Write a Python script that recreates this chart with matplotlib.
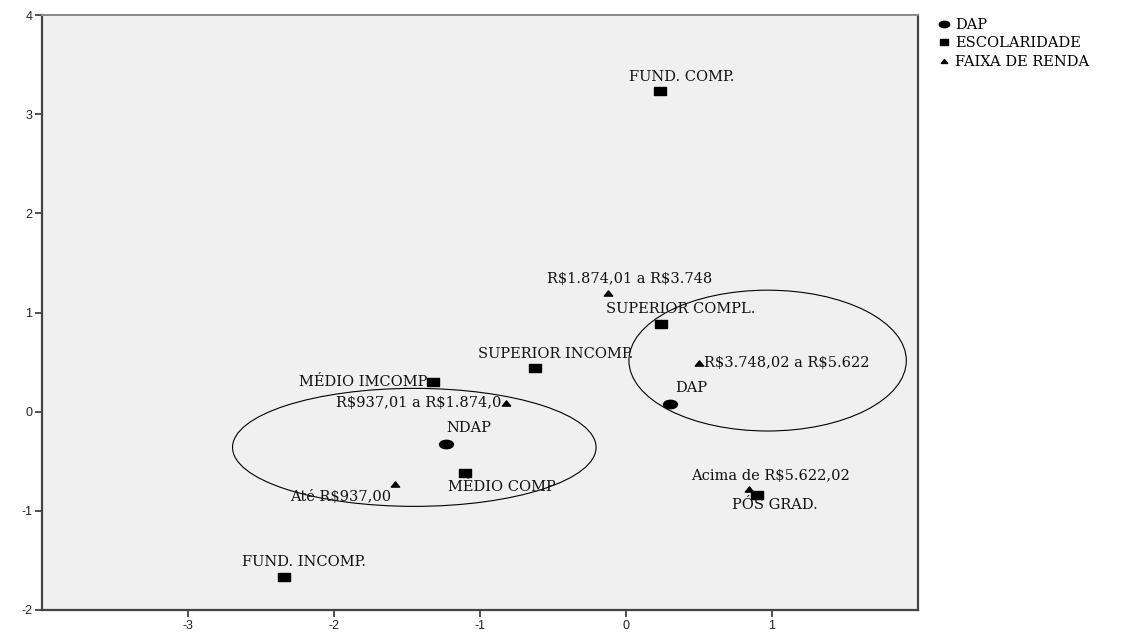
import numpy as np
import matplotlib
matplotlib.use("Agg")
import matplotlib.pyplot as plt
from matplotlib.path import Path
from matplotlib.patches import Ellipse
from matplotlib.lines import Line2D

plt.rcParams["axes.unicode_minus"] = False
plt.rcParams["text.parse_math"] = False

# ---------------- data ----------------
labels = ["FUND. COMP.", "FUND. INCOMP.", "MÉDIO IMCOMP", "SUPERIOR INCOMP.",
          "MÉDIO COMP", "SUPERIOR COMPL.", "PÓS GRAD.",
          "Até R$937,00", "R$937,01 a R$1.874,0", "R$1.874,01 a R$3.748",
          "R$3.748,02 a R$5.622", "Acima de R$5.622,02",
          "NDAP", "DAP"]
groups = ["ESCOLARIDADE"] * 7 + ["FAIXA DE RENDA"] * 5 + ["DAP"] * 2
x_vals = [0.23, -2.34, -1.32, -0.62, -1.10, 0.24, 0.90,
          -1.58, -0.82, -0.12, 0.50, 0.84,
          -1.23, 0.30]
y_vals = [3.23, -1.67, 0.30, 0.44, -0.62, 0.88, -0.84,
          -0.73, 0.09, 1.20, 0.49, -0.78,
          -0.33, 0.08]
legend_order = ["DAP", "ESCOLARIDADE", "FAIXA DE RENDA"]
x_ticks = [-3, -2, -1, 0, 1]
y_ticks = [4, 3, 2, 1, 0, -1, -2]

# ellipses drawn around clusters (center x, center y, width, height)
ellipses = [(-1.45, -0.36, 2.49, 1.19), (0.97, 0.515, 1.90, 1.42)]

# ---------------- layout of labels (offset in pixels, alignment) ----------------
label_layout = {
    "FUND. COMP.": (22, 14.5, "center"),
    "FUND. INCOMP.": (20, 15, "center"),
    "MÉDIO IMCOMP": (-6, 0, "right"),
    "SUPERIOR INCOMP.": (20, 14, "center"),
    "MÉDIO COMP": (36, -14, "center"),
    "SUPERIOR COMPL.": (20, 15, "center"),
    "PÓS GRAD.": (17, -10, "center"),
    "Até R$937,00": (-55, -13, "center"),
    "R$937,01 a R$1.874,0": (-5, 0, "right"),
    "R$1.874,01 a R$3.748": (21, 14, "center"),
    "R$3.748,02 a R$5.622": (5, 0, "left"),
    "Acima de R$5.622,02": (22, 13, "center"),
    "NDAP": (22, 16, "center"),
    "DAP": (21, 16, "center"),
}

# ---------------- stretched markers ----------------
def stretched(verts, codes, sx):
    v = np.array(verts, dtype=float) * np.array([sx, 1.0])
    return Path(v, codes)

circ = Path.unit_circle()
m_circle = stretched(circ.vertices, circ.codes, 1.65)
m_square = stretched([(-1, -1), (1, -1), (1, 1), (-1, 1), (-1, -1)],
                     [Path.MOVETO, Path.LINETO, Path.LINETO, Path.LINETO, Path.CLOSEPOLY], 1.55)
m_tri = stretched([(-1, -1), (1, -1), (0, 1), (-1, -1)],
                  [Path.MOVETO, Path.LINETO, Path.LINETO, Path.CLOSEPOLY], 1.6)
marker_style = {"DAP": (m_circle, 10), "ESCOLARIDADE": (m_square, 8),
                "FAIXA DE RENDA": (m_tri, 6)}

# ---------------- figure ----------------
W, H = 1142, 632
fig = plt.figure(figsize=(W / 100, H / 100), dpi=100)
fig.patch.set_facecolor("white")
ax = fig.add_axes([42 / W, 1 - 610 / H, (918 - 42) / W, (610 - 15) / H])
ax.set_facecolor("#F0F0F0")
ax.set_xlim(-4, 2)
ax.set_ylim(-2, 4)

serif = ["DejaVu Serif"]

for g in legend_order:
    xs = [x for x, gg in zip(x_vals, groups) if gg == g]
    ys = [y for y, gg in zip(y_vals, groups) if gg == g]
    mk, ms = marker_style[g]
    ax.plot(xs, ys, linestyle="none", marker=mk, markersize=ms,
            color="black", zorder=3)

for lab, x, y in zip(labels, x_vals, y_vals):
    dx, dy, ha = label_layout[lab]
    ax.annotate(lab, (x, y), xytext=(dx, dy), textcoords="offset pixels",
                ha=ha, va="center", fontsize=10.5, family=serif, color="#111111",
                zorder=4)

for cx, cy, w, h in ellipses:
    ax.add_patch(Ellipse((cx, cy), w, h, fill=False, edgecolor="black",
                         linewidth=0.8, zorder=2))

ax.set_xticks(x_ticks)
ax.set_yticks(y_ticks)
ax.tick_params(axis="both", direction="out", length=5, width=1.2,
               color="#333333", labelsize=9, labelcolor="#222222", pad=2)
for t in ax.get_xticklabels() + ax.get_yticklabels():
    t.set_family(["Liberation Sans", "DejaVu Sans"])
for s in ["left", "bottom", "right"]:
    ax.spines[s].set_color("#444444")
    ax.spines[s].set_linewidth(1.6)
ax.spines["top"].set_color("#888888")
ax.spines["top"].set_linewidth(1.4)

handles = []
for g in legend_order:
    mk, ms = marker_style[g]
    handles.append(Line2D([], [], linestyle="none", marker=mk,
                          markersize=ms * 0.75, color="black"))
fig.legend(handles, legend_order, loc="upper left",
           bbox_to_anchor=(938 / W, 1 - 18 / H), frameon=False,
           prop={"family": serif, "size": 10.5}, handlelength=0.8,
           handletextpad=0.35, labelspacing=0.3, borderpad=0, borderaxespad=0)

fig.savefig("out.png", dpi=100)
